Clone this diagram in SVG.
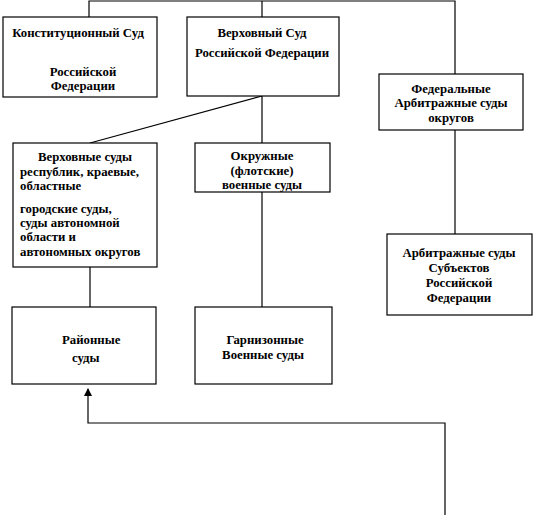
<svg xmlns="http://www.w3.org/2000/svg" width="534" height="515" viewBox="0 0 534 515">
<defs>
<style>
.box{fill:#fff;stroke:#000;stroke-width:1.2}
.ln{fill:none;stroke:#000;stroke-width:1.2}
.c{text-anchor:middle}
</style>
<marker id="ah" markerWidth="8" markerHeight="8" refX="7" refY="4" orient="auto" markerUnits="userSpaceOnUse">
<path d="M0,0 L8,4 L0,8 Z" fill="#000"/>
</marker>
</defs>
<rect width="534" height="515" fill="#fff"/>
<g id="connectors">
<path class="ln" d="M89,17 V1 H455 V74"/>
<path class="ln" d="M262,1 V17"/>
<path class="ln" d="M455,130 V234"/>
<path class="ln" d="M262,96 V143"/>
<path class="ln" d="M262,96 L90,143"/>
<path class="ln" d="M262,192 V307"/>
<path class="ln" d="M90,267 V307"/>
<path class="ln" d="M445,515 V423 H88 V389" marker-end="url(#ah)"/>
</g>
<g font-family="Liberation Serif, Times New Roman, serif" font-size="12.8" font-weight="bold" fill="#000">
<g id="konst">
<rect class="box" x="3" y="17" width="154" height="80"/>
<text class="c" x="78" y="37">Конституционный Суд</text>
<text class="c" x="83" y="76">Российской</text>
<text class="c" x="83" y="90">Федерации</text>
</g>
<g id="verh">
<rect class="box" x="187" y="17" width="152" height="79"/>
<text class="c" x="262" y="37">Верховный  Суд</text>
<text class="c" x="262" y="57">Российской Федерации</text>
</g>
<g id="fed-arb">
<rect class="box" x="379" y="74" width="144" height="56"/>
<text class="c" x="451" y="93">Федеральные</text>
<text class="c" x="451" y="107">Арбитражные суды</text>
<text class="c" x="451" y="122">округов</text>
</g>
<g id="arb-subj">
<rect class="box" x="387" y="234" width="145" height="81"/>
<text class="c" x="459" y="257">Арбитражные суды</text>
<text class="c" x="459" y="272">Субъектов</text>
<text class="c" x="459" y="287">Российской</text>
<text class="c" x="459" y="302">Федерации</text>
</g>
<g id="verh-resp">
<rect class="box" x="13" y="143" width="144" height="124"/>
<text x="38" y="161">Верховные суды</text>
<text x="20" y="176">республик, краевые,</text>
<text x="20" y="190">областные</text>
<text x="20" y="213">городские суды,</text>
<text x="20" y="227">суды автономной</text>
<text x="20" y="241">области и</text>
<text x="20" y="256">автономных округов</text>
</g>
<g id="okruzh">
<rect class="box" x="195" y="143" width="135" height="49"/>
<text class="c" x="262" y="160">Окружные</text>
<text class="c" x="262" y="175">(флотские)</text>
<text class="c" x="262" y="189">военные суды</text>
</g>
<g id="raion">
<rect class="box" x="12" y="307" width="144" height="77"/>
<text x="62" y="344">Районные</text>
<text x="72" y="362">суды</text>
</g>
<g id="garn">
<rect class="box" x="195" y="307" width="137" height="77"/>
<text class="c" x="265" y="344">Гарнизонные</text>
<text class="c" x="263" y="359">Военные суды</text>
</g>
</g>
</svg>
